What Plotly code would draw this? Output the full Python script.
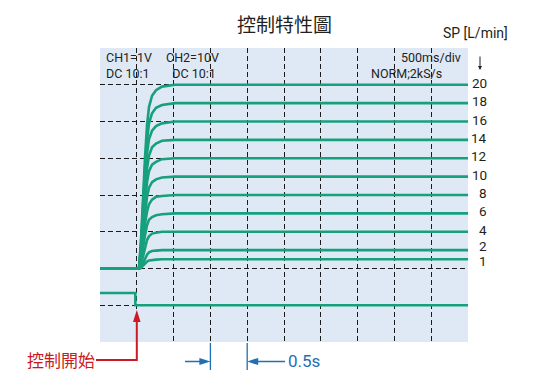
import plotly.graph_objects as go

# ---------------- data ----------------
t_ms = [-500, 30, 57, 84, 111, 139, 166, 207, 261, 342, 519, 4500]

sp_20 = [0, 0, 3.0, 8.0, 12.0, 15.6, 17.6, 18.8, 19.4, 19.8, 20, 20]
sp_18 = [0, 0, 2.7, 7.2, 10.8, 14.0, 15.8, 16.9, 17.5, 17.8, 18, 18]
sp_16 = [0, 0, 2.4, 6.4, 9.6, 12.5, 14.1, 15.0, 15.5, 15.8, 16, 16]
sp_14 = [0, 0, 2.1, 5.6, 8.4, 10.9, 12.3, 13.2, 13.6, 13.9, 14, 14]
sp_12 = [0, 0, 1.8, 4.8, 7.2, 9.4, 10.6, 11.3, 11.6, 11.9, 12, 12]
sp_10 = [0, 0, 1.5, 4.0, 6.0, 7.8, 8.8, 9.4, 9.7, 9.9, 10, 10]
sp_8 = [0, 0, 1.2, 3.2, 4.8, 6.2, 7.0, 7.5, 7.8, 7.9, 8, 8]
sp_6 = [0, 0, 0.9, 2.4, 3.6, 4.7, 5.3, 5.6, 5.8, 5.9, 6, 6]
sp_4 = [0, 0, 0.4, 1.4, 2.4, 3.1, 3.5, 3.8, 3.9, 4.0, 4, 4]
sp_2 = [0, 0, 0.1, 0.6, 1.1, 1.5, 1.75, 1.9, 1.95, 2, 2, 2]
sp_1 = [0, 0, 0.05, 0.3, 0.55, 0.75, 0.88, 0.94, 0.97, 1, 1, 1]

sp_labels = ["20", "18", "16", "14", "12", "10", "8", "6", "4", "2", "1"]
sp_levels = [20, 18, 16, 14, 12, 10, 8, 6, 4, 2, 1]

ch2_t = [-500, -20, -20, 4500]
ch2_v = [-2.67, -2.67, -4.0, -4.0]

grid_t = [0, 500, 1000, 1500, 2000, 2500, 3000, 3500, 4000]
grid_v = [-4, 0, 4, 8, 12, 16, 20]

# ---------------- styling ----------------
W, H = 539, 385
ML, MR, MT, MB = 100, 71, 48, 43
PW, PH = W - ML - MR, H - MT - MB
X_RANGE = [-500, 4500]
Y_RANGE = [-8, 24]

GREEN = "#17a07c"
RED = "#cc1a22"
BLUE = "#1f6fb2"
DARK = "#231f20"
BG = "#dfe8f5"
LATIN = "Roboto, sans-serif"
CJK = "Noto Sans CJK TC"


def px(x):
    return (x - ML) / PW


def py(y):
    return (H - MB - y) / PH


def tx(t):
    return (t - X_RANGE[0]) / (X_RANGE[1] - X_RANGE[0])


fig = go.Figure()

series = [sp_20, sp_18, sp_16, sp_14, sp_12, sp_10, sp_8, sp_6, sp_4, sp_2, sp_1]
for s in series:
    fig.add_trace(go.Scatter(x=t_ms, y=s, mode="lines",
                             line=dict(color=GREEN, width=2.6),
                             hoverinfo="skip", showlegend=False))
fig.add_trace(go.Scatter(x=ch2_t, y=ch2_v, mode="lines",
                         line=dict(color=GREEN, width=2.6),
                         hoverinfo="skip", showlegend=False))

ann = []
# title
ann.append(dict(text="控制特性圖", x=px(284), y=py(24), xref="paper", yref="paper",
                xanchor="center", yanchor="middle", showarrow=False,
                font=dict(family=CJK, size=19, color=DARK)))
ann.append(dict(text="SP [L/min]", x=px(441), y=py(33), xref="paper", yref="paper",
                xanchor="left", yanchor="middle", showarrow=False,
                font=dict(family=LATIN, size=14, color=DARK)))
# SP labels
for lab, lev in zip(sp_labels, sp_levels):
    shift = 4 if lab == "2" else (-1.5 if lab == "1" else 2)
    ann.append(dict(text=lab, x=px(488), y=lev, xref="paper", yref="y",
                    xanchor="right", yanchor="middle", yshift=shift, showarrow=False,
                    borderpad=0, font=dict(family=LATIN, size=13.5, color=DARK)))
# small down arrow
ann.append(dict(text="", x=px(480), y=py(70), xref="paper", yref="paper",
                ax=0, ay=-15, showarrow=True, arrowhead=2, arrowsize=0.8,
                arrowwidth=1, arrowcolor=DARK))
# panel texts (two lines each)
for txt, x, anc in [("CH1=1V<br>DC 10:1", 105, "left"),
                    ("CH2=10V<br>  DC 10:1", 165, "left"),
                    ("500ms/div", 462, "right")]:
    if anc == "right":
        continue
    ann.append(dict(text=txt, x=px(x), y=py(66), xref="paper", yref="paper",
                    xanchor=anc, yanchor="middle", align="left", showarrow=False,
                    borderpad=0, font=dict(family=LATIN, size=12.5, color=DARK)))
ann.append(dict(text="500ms/div<br>NORM;2kS/s      ", x=px(462), y=py(66),
                xref="paper", yref="paper", xanchor="right", yanchor="middle",
                align="right", showarrow=False, borderpad=0,
                font=dict(family=LATIN, size=12.5, color=DARK)))
# red label
ann.append(dict(text="控制開始", x=px(97), y=py(359.5), xref="paper", yref="paper",
                xanchor="right", yanchor="middle", showarrow=False,
                font=dict(family=CJK, size=17, color=RED)))
# 0.5s label
ann.append(dict(text="0.5s", x=px(286), y=py(360.5), xref="paper", yref="paper",
                xanchor="left", yanchor="middle", showarrow=False,
                font=dict(family=LATIN, size=17, color=BLUE)))

shapes = []
# red arrow
x0 = tx(0)
shapes.append(dict(type="line", xref="paper", yref="paper", x0=px(96), x1=x0,
                   y0=py(360), y1=py(360), line=dict(color=RED, width=2)))
shapes.append(dict(type="line", xref="paper", yref="paper", x0=x0, x1=x0,
                   y0=py(361), y1=py(320), line=dict(color=RED, width=2)))
hw = 3.8 / PW
shapes.append(dict(type="path", xref="paper", yref="paper",
                   path=f"M {x0} {py(310)} L {x0 - hw} {py(322)} L {x0 + hw} {py(322)} Z",
                   fillcolor=RED, line=dict(color=RED, width=0)))
# blue dimension
xa, xb = tx(1000), tx(1500)
for xv in (xa, xb):
    shapes.append(dict(type="line", xref="paper", yref="paper", x0=xv, x1=xv,
                       y0=py(343), y1=py(370), line=dict(color=BLUE, width=1.3)))
shapes.append(dict(type="line", xref="paper", yref="paper", x0=px(185), x1=xa - 6 / PW,
                   y0=py(361.5), y1=py(361.5), line=dict(color=BLUE, width=1.5)))
shapes.append(dict(type="line", xref="paper", yref="paper", x0=xb + 6 / PW, x1=px(285),
                   y0=py(361.5), y1=py(361.5), line=dict(color=BLUE, width=1.5)))
ah_l, ah_h = 11 / PW, 3.6 / PH
shapes.append(dict(type="path", xref="paper", yref="paper",
                   path=f"M {xa} {py(361.5)} L {xa - ah_l} {py(361.5) + ah_h} L {xa - ah_l} {py(361.5) - ah_h} Z",
                   fillcolor=BLUE, line=dict(color=BLUE, width=0)))
shapes.append(dict(type="path", xref="paper", yref="paper",
                   path=f"M {xb} {py(361.5)} L {xb + ah_l} {py(361.5) + ah_h} L {xb + ah_l} {py(361.5) - ah_h} Z",
                   fillcolor=BLUE, line=dict(color=BLUE, width=0)))

fig.update_layout(
    width=W, height=H,
    margin=dict(l=ML, r=MR, t=MT, b=MB, pad=0),
    paper_bgcolor="white", plot_bgcolor=BG,
    annotations=ann, shapes=shapes,
    showlegend=False,
)
fig.update_xaxes(range=X_RANGE, tickvals=grid_t, showticklabels=False, ticks="",
                 showgrid=True, gridcolor="#1a1a1a", gridwidth=1, griddash="5px,3px",
                 zeroline=False, showline=False, fixedrange=True)
fig.update_yaxes(range=Y_RANGE, tickvals=grid_v, showticklabels=False, ticks="",
                 showgrid=True, gridcolor="#1a1a1a", gridwidth=1, griddash="5px,3px",
                 zeroline=False, showline=False, fixedrange=True)

fig.write_html("out.html", config={"displayModeBar": False},
               post_script="document.body.style.margin='0';")
